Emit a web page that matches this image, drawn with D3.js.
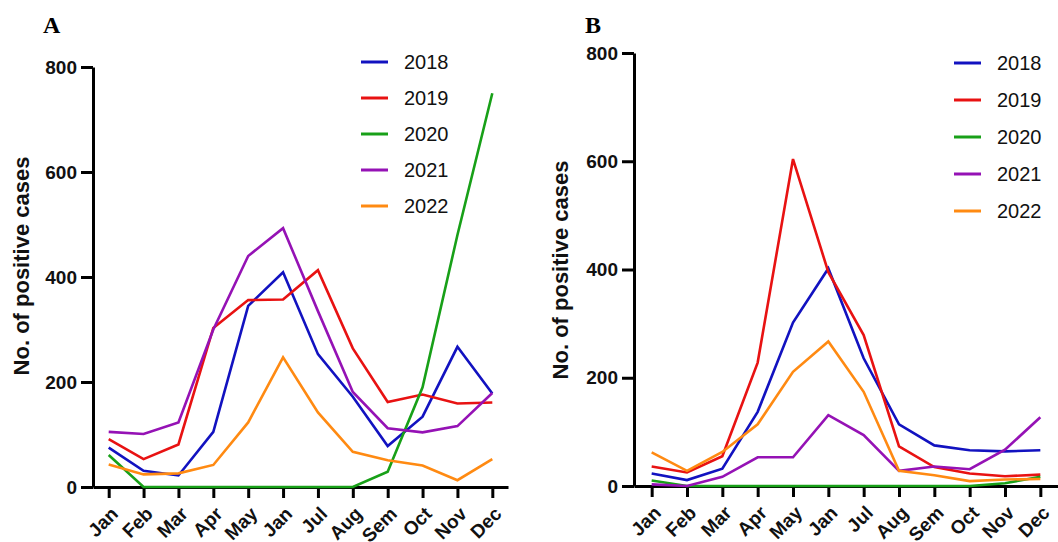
<!DOCTYPE html>
<html>
<head>
<meta charset="utf-8">
<script src="https://cdn.jsdelivr.net/npm/d3@7"></script>
<style>
  body { margin: 0; background: #fff; }
  svg { display: block; font-family: Arial, "Liberation Sans", sans-serif; }
  .tick text { font-weight: bold; font-size: 19px; fill: #111; }
  .xaxis .tick text { font-size: 19px; }
  .domain, .tick line { stroke: #000; stroke-width: 3; }
</style>
</head>
<body>
<div id="chart"></div>
<script>
// month labels (the sixth one really says "Jan" in the figure)
var months = ["Jan", "Feb", "Mar", "Apr", "May", "Jan", "Jul", "Aug", "Sem", "Oct", "Nov", "Dec"];
var years = ["2018", "2019", "2020", "2021", "2022"];
var yTicks = [0, 200, 400, 600, 800];

// panel A
var a2018 = [75, 31, 22, 105, 345, 409, 253, 172, 78, 134, 267, 178];
var a2019 = [91, 53, 81, 303, 356, 357, 413, 264, 162, 176, 159, 161];
var a2020 = [61, 0, 0, 0, 0, 0, 0, 0, 29, 190, 480, 750];
var a2021 = [105, 101, 123, 300, 440, 493, 335, 181, 112, 104, 116, 179];
var a2022 = [43, 24, 26, 42, 123, 247, 142, 67, 51, 41, 13, 53];

// panel B
var b2018 = [23, 11, 32, 137, 302, 402, 236, 114, 75, 66, 64, 66];
var b2019 = [36, 25, 55, 228, 604, 395, 279, 73, 35, 23, 18, 21];
var b2020 = [10, 0, 0, 0, 0, 0, 0, 0, 0, 0, 5, 17];
var b2021 = [3, 0, 17, 53, 53, 131, 94, 28, 36, 31, 67, 127];
var b2022 = [62, 28, 63, 114, 211, 267, 174, 28, 20, 9, 12, 13];

var colors = ["#1212c0", "#e81212", "#18a018", "#9512b5", "#ff8a12"];

var svg = d3.select("#chart")
    .append("svg")
    .attr("width", 1058)
    .attr("height", 542);

function drawPanel(p) {
    var g = svg.append("g");

    var x = d3.scalePoint()
        .domain(d3.range(months.length))
        .range([p.left, p.right])
        .padding(p.pad);

    var y = d3.scaleLinear()
        .domain([0, 800])
        .range([p.bottom, p.top]);

    // x axis
    var xAxis = g.append("g")
        .attr("class", "xaxis")
        .attr("transform", "translate(0," + p.bottom + ")")
        .call(d3.axisBottom(x).tickSize(11).tickSizeOuter(0)
            .tickFormat(function (i) { return months[i]; }));
    xAxis.selectAll(".tick text")
        .attr("text-anchor", "end")
        .attr("x", null).attr("y", null).attr("dy", null)
        .attr("transform", "translate(10,28) rotate(-45)");

    // y axis
    g.append("g")
        .attr("transform", "translate(" + p.left + ",0)")
        .call(d3.axisLeft(y).tickValues(yTicks).tickSize(12).tickPadding(4).tickSizeOuter(0));

    // lines go on top of the axes (2020 sits on the zero line)
    var line = d3.line()
        .x(function (d, i) { return x(i); })
        .y(function (d) { return y(d); });

    p.series.forEach(function (vals, k) {
        g.append("path")
            .datum(vals)
            .attr("fill", "none")
            .attr("stroke", colors[k])
            .attr("stroke-width", 2.6)
            .attr("d", line);
    });

    // axis title
    g.append("text")
        .attr("transform", "translate(" + p.labelX + "," + p.labelY + ") rotate(-90)")
        .attr("text-anchor", "middle")
        .style("font-weight", "bold")
        .style("font-size", "22px")
        .attr("fill", "#111")
        .text("No. of positive cases");

    // panel letter
    g.append("text")
        .attr("x", p.letterX)
        .attr("y", 33)
        .style("font-family", "'Liberation Serif', 'Times New Roman', serif")
        .style("font-weight", "bold")
        .style("font-size", "24px")
        .text(p.letter);

    // legend
    years.forEach(function (yr, k) {
        var ly = p.legY + k * p.legStep;
        g.append("line")
            .attr("x1", p.legX).attr("x2", p.legX + 27)
            .attr("y1", ly).attr("y2", ly)
            .attr("stroke", colors[k])
            .attr("stroke-width", 3);
        g.append("text")
            .attr("x", p.legX + 43)
            .attr("y", ly)
            .attr("dy", "0.36em")
            .style("font-size", "20px")
            .attr("fill", "#111")
            .text(yr);
    });
}

drawPanel({
    letter: "A", letterX: 43,
    left: 93, right: 508, top: 67, bottom: 487, pad: 0.45,
    labelX: 29, labelY: 266,
    legX: 361, legY: 62, legStep: 36,
    series: [a2018, a2019, a2020, a2021, a2022]
});

drawPanel({
    letter: "B", letterX: 585,
    left: 634, right: 1058, top: 53, bottom: 486, pad: 0.5,
    labelX: 568, labelY: 270,
    legX: 954, legY: 63, legStep: 37,
    series: [b2018, b2019, b2020, b2021, b2022]
});
</script>
</body>
</html>
